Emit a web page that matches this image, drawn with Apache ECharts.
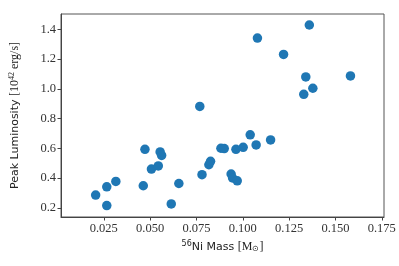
<!DOCTYPE html>
<html><head><meta charset="utf-8">
<script src="https://cdn.jsdelivr.net/npm/echarts@6/dist/echarts.min.js"></script>
<style>html,body{margin:0;padding:0;background:#fff}#c{width:399px;height:266px}</style>
</head><body><div id="c"></div>
<script>
const niMass = [0.0206,0.0266,0.0266,0.0315,0.0472,0.0463,0.0507,0.0544,0.0554,0.0562,0.0614,0.0655,
  0.0768,0.0780,0.0817,0.0826,0.0882,0.0900,0.0937,0.0945,0.0970,0.0963,0.1002,0.1040,0.1072,0.1150,
  0.1079,0.1359,0.1220,0.1340,0.1378,0.1329,0.1581];
const peakLum = [0.286,0.342,0.216,0.378,0.594,0.349,0.461,0.482,0.576,0.553,0.227,0.364,
  0.882,0.423,0.490,0.513,0.601,0.599,0.428,0.401,0.382,0.594,0.607,0.691,0.623,0.657,
  1.341,1.429,1.231,1.080,1.004,0.963,1.087];
const xTicks = [0.025,0.050,0.075,0.100,0.125,0.150,0.175];
const yTicks = [0.2,0.4,0.6,0.8,1.0,1.2,1.4];

const serif = 'Liberation Serif';
const sans = 'DejaVu Sans';
const axisCol = '#444';
const chart = echarts.init(document.getElementById('c'), null, {renderer:'canvas'});
chart.setOption({
  animation:false,
  grid:{left:54,right:15,top:14,bottom:49,show:true,borderColor:'#555',borderWidth:1},
  xAxis:{type:'value',min:0.0019,max:0.1762,
    name:'{s|56}{a|Ni Mass }{b|[M}{c|⊙}{b|]}',nameLocation:'middle',nameGap:17,
    nameTextStyle:{rich:{
      s:{fontFamily:sans,fontSize:8,color:'#222',verticalAlign:'top',padding:[0,0,6,0]},
      a:{fontFamily:sans,fontSize:11,color:'#222'},
      b:{fontFamily:serif,fontSize:12,color:'#222'},
      c:{fontFamily:serif,fontSize:8,color:'#222',padding:[5,0,0,0]}}},
    axisLine:{show:true,lineStyle:{color:axisCol}},
    axisTick:{show:true,length:3.5,inside:false,customValues:xTicks,lineStyle:{color:axisCol}},
    axisLabel:{customValues:xTicks,formatter:v=>v.toFixed(3),fontFamily:serif,fontSize:12.5,color:'#333',margin:5},
    splitLine:{show:false}},
  yAxis:{type:'value',min:0.139,max:1.503,
    name:'{a|Peak Luminosity }{b|[10}{s|42}{b| erg/s]}',nameLocation:'middle',nameGap:39,
    nameTextStyle:{rich:{
      a:{fontFamily:sans,fontSize:11,color:'#222'},
      b:{fontFamily:serif,fontSize:12,color:'#222'},
      s:{fontFamily:serif,fontSize:8,color:'#222',padding:[0,0,6,0]}}},
    axisLine:{show:true,lineStyle:{color:axisCol}},
    axisTick:{show:true,length:3.5,inside:false,customValues:yTicks,lineStyle:{color:axisCol}},
    axisLabel:{customValues:yTicks,formatter:v=>v.toFixed(1),fontFamily:serif,fontSize:12.5,color:'#333',margin:5},
    splitLine:{show:false}},
  series:[{type:'scatter',symbol:'circle',symbolSize:9.5,
    itemStyle:{color:'#1f77b4',opacity:1},
    data:niMass.map((x,i)=>[x,peakLum[i]])}]
});
</script></body></html>
